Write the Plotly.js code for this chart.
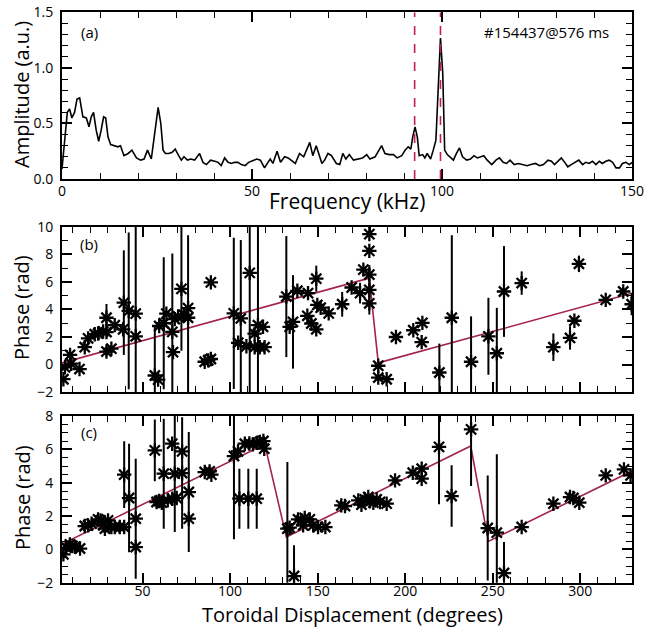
<!DOCTYPE html>
<html>
<head>
<meta charset="utf-8">
<script src="https://cdn.plot.ly/plotly-3.0.1.min.js"></script>
<style>html,body{margin:0;padding:0;background:#fff;}#chart{width:645px;height:628px;}</style>
</head>
<body>
<div id="chart"></div>
<script>
// ---- Panel (a): amplitude spectrum ----
const freqKHz = [0,0.7,1.4,2.0,2.6,3.3,3.95,4.65,5.5,6.4,7.1,7.7,8.3,9.0,9.65,10.3,10.95,11.5,12.1,12.8,13.9,14.7,15.4,16.3,17.4,18.4,19.6,20.7,21.6,22.5,23.5,24.4,25.3,26.0,26.6,27.2,28.1,29.0,29.8,30.7,31.4,32.1,33.0,33.9,34.9,36.2,37.1,38.0,39.1,40.2,41.1,41.9,42.8,43.7,44.6,45.4,46.3,47.2,48.2,49.1,50.3,51.3,52.2,53.3,54.2,54.8,55.5,56.6,57.5,58.6,59.5,60.4,61.4,62.5,63.6,65.2,66.0,66.9,67.8,68.4,69.1,70.0,70.9,72.2,73.1,73.9,74.7,75.6,76.7,78.0,79.1,80.2,81.0,82.4,83.2,84.1,85.0,86.1,87.2,88.2,89.4,90.3,91.1,91.8,92.3,92.9,93.5,94.0,94.9,95.5,96.1,97.0,97.7,98.4,99.1,99.6,100.2,100.7,101.4,102.1,103.0,103.8,104.6,105.4,106.5,107.5,108.4,109.3,110.2,111.0,111.9,113.1,114.2,115.1,116.1,117.0,117.9,119.0,120.1,121.3,122.4,123.4,124.6,125.7,126.7,127.9,128.8,129.6,130.5,131.4,132.3,133.1,134.0,134.9,136.0,137.0,137.8,138.7,139.6,140.5,141.4,142.2,143.1,144.0,144.9,145.8,146.7,147.5,148.4,149.3,150.0];
const amplitude = [0.09,0.35,0.60,0.63,0.55,0.60,0.72,0.73,0.56,0.55,0.47,0.56,0.60,0.44,0.34,0.44,0.56,0.55,0.38,0.31,0.30,0.29,0.30,0.21,0.23,0.26,0.19,0.17,0.18,0.26,0.18,0.44,0.645,0.50,0.26,0.23,0.23,0.24,0.27,0.21,0.17,0.20,0.17,0.18,0.17,0.23,0.15,0.13,0.17,0.16,0.15,0.12,0.19,0.15,0.14,0.15,0.15,0.13,0.12,0.15,0.17,0.18,0.17,0.10,0.15,0.18,0.14,0.25,0.15,0.20,0.19,0.17,0.14,0.23,0.20,0.33,0.21,0.30,0.21,0.14,0.17,0.23,0.21,0.14,0.13,0.23,0.18,0.22,0.17,0.18,0.19,0.22,0.18,0.20,0.25,0.30,0.23,0.22,0.22,0.19,0.21,0.26,0.29,0.27,0.38,0.47,0.38,0.21,0.22,0.19,0.23,0.18,0.26,0.35,0.89,1.27,0.95,0.26,0.22,0.20,0.17,0.23,0.28,0.20,0.17,0.18,0.21,0.19,0.20,0.21,0.17,0.13,0.17,0.19,0.15,0.14,0.17,0.13,0.14,0.13,0.12,0.13,0.14,0.12,0.13,0.17,0.16,0.13,0.16,0.19,0.15,0.11,0.13,0.15,0.17,0.13,0.15,0.14,0.16,0.13,0.16,0.14,0.16,0.17,0.15,0.10,0.10,0.14,0.15,0.13,0.15];
const modeFreqs = [92.8, 99.6];

// ---- Panel (b): phase vs toroidal displacement, first mode ----
const bDeg = [4.8,5.7,8.6,9.2,14.0,17.0,18.9,22.7,24.6,27.5,29.4,29.4,29.4,32.2,34.1,38.9,39.3,42.1,46.1,46.1,57.0,58.9,59.5,62.1,63.6,67.0,67.4,68.4,70.3,72.2,73.7,76.0,76.0,85.5,87.5,89.0,89.0,102.1,104.6,106.1,109.3,111.2,114.0,115.9,114.0,116.9,119.7,118.8,132.1,134.0,135.9,138.4,144.5,144.1,146.4,149.2,149.2,149.8,151.7,156.3,164.0,169.4,174.2,176.1,179.5,179.5,179.5,179.5,179.5,184.6,184.6,189.4,194.7,204.6,209.8,209.4,219.5,226.6,237.6,247.5,252.3,256.4,266.5,284.6,294.1,296.6,299.2,314.5,324.5,329.3];
const bPhase = [-1.07,-0.2,0.7,0.06,-0.33,1.26,1.9,2.2,2.25,2.4,3.4,2.36,0.94,1.15,2.86,2.56,4.5,3.9,3.7,2.05,-0.8,-1.1,2.8,3.0,3.7,2.37,0.9,3.3,3.5,5.5,3.6,4.1,3.4,0.2,0.3,0.4,5.97,3.72,1.58,3.35,1.33,6.66,2.24,2.86,1.26,1.26,1.26,2.74,4.94,2.74,3.1,5.36,5.19,3.54,2.98,2.56,6.24,4.33,4.13,3.72,4.38,5.6,5.19,6.9,9.48,8.26,6.54,5.43,4.45,-0.09,-0.95,-1.07,2.0,2.49,3.03,1.63,-0.58,3.4,0.2,2.05,0.82,5.31,5.92,1.26,1.93,3.18,7.32,4.7,5.31,4.38];
const bErr = [0,0,0.3,0,0,0,0,0,0,0,1.0,0,0.35,0,0,0,3.8,5.7,9,0,3.6,0,0,4.8,0,5.7,0,0,0,4.5,0,0,6.0,0,0,0,0,5.5,0,5.7,0,9,0,9,0,0,0,0,4.4,0,3.4,0,0,0,0,0,0.95,0,0,0,0.9,0,0.75,0,0,0,0,1.8,0,0,0,0,0,0,0,0,2.1,6.0,3.3,2.8,3.3,3.3,0.85,1.0,0.85,0,0.6,0,0,0.8];
const bFitDeg = [4, 179.5, 184.6, 329.5];
const bFitPhase = [0.12, 6.28, 0.12, 5.18];

// ---- Panel (c): phase vs toroidal displacement, second mode ----
const cDeg = [4.8,6.5,8.5,10.0,11.5,14.3,17.0,18.9,20.9,24.6,26.0,27.6,28.5,30.3,32.2,34.1,37.0,39.5,39.5,42.3,46.1,46.1,57.0,58.0,59.5,61.0,62.1,64.4,67.0,66.9,68.4,69.5,72.6,72.6,76.4,76.4,85.5,88.3,89.3,102.2,104.5,105.3,108.4,110.4,111.0,113.0,115.2,115.5,117.0,119.0,119.5,132.7,134.0,136.5,138.8,140.7,141.7,142.6,145.5,147.4,150.2,154.4,163.5,165.6,173.2,175.0,176.9,178.9,179.9,181.8,183.7,185.6,189.4,194.2,204.3,209.4,209.4,219.3,226.5,237.6,247.1,252.3,256.4,266.5,284.6,294.1,296.0,299.4,314.5,324.9,328.7];
const cPhase = [-0.3,0.1,0.3,0.2,0.15,0.05,1.4,1.44,1.54,1.8,1.74,1.44,1.24,1.74,1.34,1.34,1.34,1.34,4.48,3.08,1.84,0.14,5.94,2.84,2.9,2.8,4.54,2.94,3.04,6.34,4.54,3.08,5.88,4.58,3.44,1.84,4.64,4.68,4.48,5.6,5.88,3.04,6.34,3.04,6.35,6.3,3.04,6.4,6.45,6.5,6.04,1.24,1.3,-1.6,1.8,1.74,1.44,1.88,1.8,1.44,1.34,1.34,2.64,2.6,2.94,2.68,3.0,3.14,2.88,2.8,3.0,2.84,2.74,4.14,4.6,4.84,4.24,6.15,3.2,7.2,1.28,1.0,-1.42,1.34,2.74,3.14,3.08,2.8,4.44,4.8,4.44];
const cErr = [0,0,0,0,0,0,0,0,0,0,0,0,0,0,0,0,0,0,2.0,3.25,3.6,0,1.85,0,0,0,3.3,0,0,0,3.5,0,0,3.35,3.6,0,0,0,0,5.0,0,1.8,0,1.8,0,0,1.8,0,0,0,0,4.0,0,1.85,0,0,0,0,0,0,0,0,0,0,0,0,0,0,0,0,0,0,0,0,0,0,0,3.45,1.85,3.4,3.15,4.7,1.86,0,0,0,0,0,0,0,0];
const cFitDeg = [4, 119.8, 132.1, 237.4, 247.5, 329.5];
const cFitPhase = [0.32, 6.3, 0.74, 6.2, 0.48, 4.7];

const FONT = '"Open Sans", "DejaVu Sans", sans-serif';
const FIT = '#a3234b';

function starTrace(x, y, e, xa, ya) {
  return {
    x: x, y: y, xaxis: xa, yaxis: ya, type: 'scatter', mode: 'markers',
    marker: {symbol: 'asterisk-open', size: 12, color: '#000', line: {color: '#000', width: 2.3}},
    error_y: {type: 'data', array: e, visible: true, width: 0, thickness: 2, color: '#000'},
    showlegend: false, hoverinfo: 'skip'
  };
}

const traces = [
  {x: freqKHz, y: amplitude, type: 'scatter', mode: 'lines', line: {color: '#000', width: 1.6}, xaxis: 'x', yaxis: 'y', showlegend: false},
  {x: bFitDeg, y: bFitPhase, type: 'scatter', mode: 'lines', line: {color: FIT, width: 1.6}, xaxis: 'x2', yaxis: 'y2', showlegend: false},
  starTrace(bDeg, bPhase, bErr, 'x2', 'y2'),
  {x: cFitDeg, y: cFitPhase, type: 'scatter', mode: 'lines', line: {color: FIT, width: 1.6}, xaxis: 'x3', yaxis: 'y3', showlegend: false},
  starTrace(cDeg, cPhase, cErr, 'x3', 'y3')
];

function ax(extra) {
  return Object.assign({
    showline: true, linecolor: '#000', linewidth: 2, mirror: 'allticks',
    ticks: 'inside', ticklen: 10, tickwidth: 2, tickcolor: '#000',
    showgrid: false, zeroline: false, fixedrange: true,
    tickfont: {family: FONT, size: 14, color: '#000'}
  }, extra);
}
function minor(d) { return {dtick: d, ticks: 'inside', ticklen: 6, tickwidth: 1, tickcolor: '#000', showgrid: false}; }

const shapes = modeFreqs.map(f => ({
  type: 'line', xref: 'x', yref: 'y domain', x0: f, x1: f, y0: 0, y1: 1,
  line: {color: '#c0204f', width: 1.6, dash: 'dash'}
}));

// paper coordinate helpers (plot area: x 62..632, y 12..608)
const px = x => (x - 62) / 570;
const py = y => (608 - y) / 596;

const annotations = [
  {text: 'Amplitude (a.u.)', x: px(21), y: py(95), textangle: -90, size: 20},
  {text: 'Frequency (kHz)', x: px(347), y: py(201), size: 21},
  {text: 'Phase (rad)', x: px(22), y: py(308), textangle: -90, size: 20},
  {text: 'Phase (rad)', x: px(22), y: py(498), textangle: -90, size: 20},
  {text: 'Toroidal Displacement (degrees)', x: px(352), y: py(614), size: 20},
  {text: '(a)', x: px(89), y: py(31.5), size: 15},
  {text: '(b)', x: px(89), y: py(244), size: 15},
  {text: '(c)', x: px(89), y: py(432), size: 15},
  {text: '#154437@576 ms', x: px(611), y: py(32), size: 15, xanchor: 'right'}
].map(a => ({
  text: a.text, x: a.x, y: a.y, xref: 'paper', yref: 'paper', showarrow: false,
  xanchor: a.xanchor || 'center', yanchor: 'middle', textangle: a.textangle || 0,
  font: {family: FONT, size: a.size, color: '#000'}
}));

const layout = {
  width: 645, height: 628,
  margin: {l: 62, r: 13, t: 12, b: 20},
  paper_bgcolor: '#fff', plot_bgcolor: '#fff',
  font: {family: FONT, color: '#000'},
  showlegend: false,
  xaxis: ax({domain: [0, 1], anchor: 'y', range: [0, 150], tick0: 0, dtick: 50, minor: minor(10), ticklabelstandoff: -2}),
  yaxis: ax({domain: [0.7198, 0.9992], anchor: 'x', range: [0, 1.5], tick0: 0, dtick: 0.5, tickformat: '.1f', minor: minor(0.1), ticklabelstandoff: 4}),
  xaxis2: ax({domain: [0, 1], anchor: 'y2', range: [4, 329.5], tick0: 0, dtick: 50, minor: minor(10), showticklabels: false}),
  yaxis2: ax({domain: [0.3624, 0.6393], anchor: 'x2', range: [-2, 10], tick0: 0, dtick: 2, minor: minor(1), ticklabelstandoff: 4}),
  xaxis3: ax({domain: [0, 1], anchor: 'y3', range: [4, 329.5], tick0: 0, dtick: 50, minor: minor(10), ticklabelstandoff: -5}),
  yaxis3: ax({domain: [0.04245, 0.3221], anchor: 'x3', range: [-2, 8], tick0: 0, dtick: 2, minor: minor(0.5), ticklabelstandoff: 4}),
  shapes: shapes,
  annotations: annotations
};

Plotly.newPlot('chart', traces, layout, {staticPlot: true, displayModeBar: false});
</script>
</body>
</html>
